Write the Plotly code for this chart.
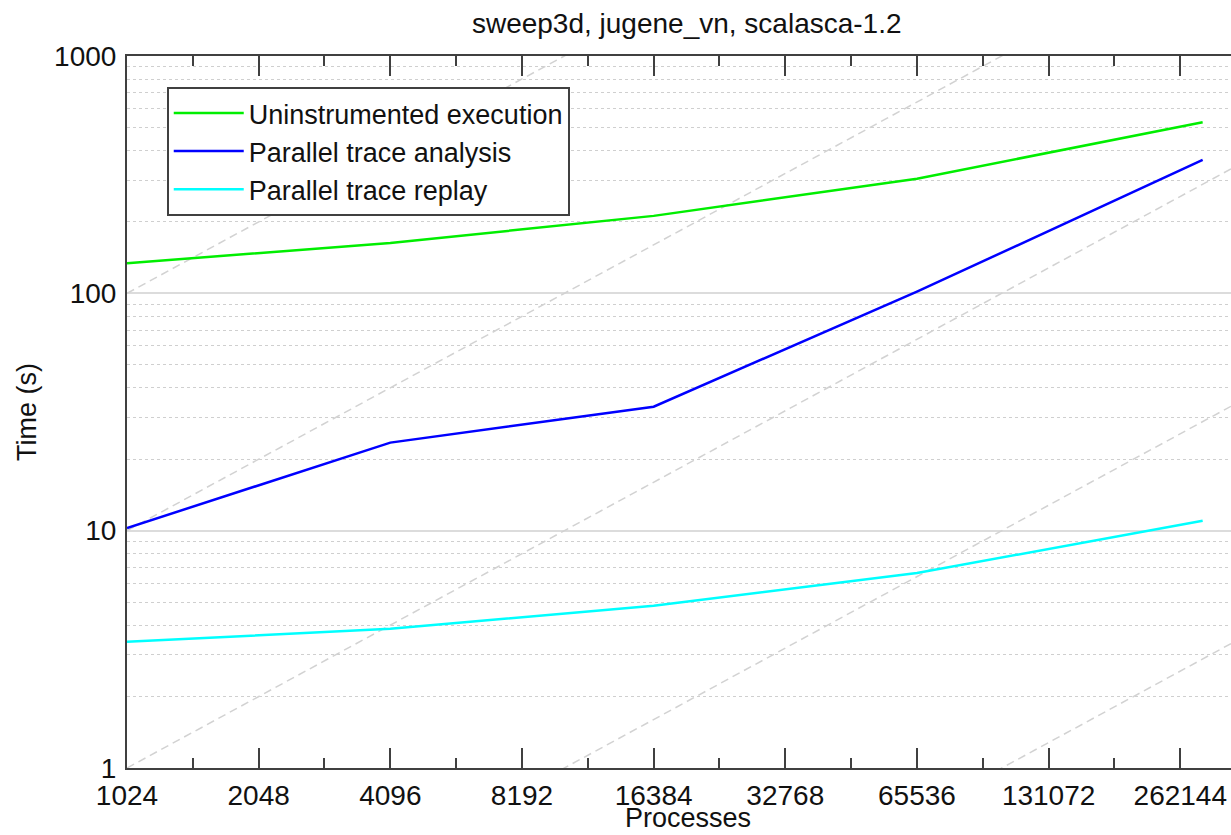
import math
import plotly.graph_objects as go

# ---- data ----
processes = [1024, 4096, 16384, 65536, 294912]
uninstrumented = [134, 163, 212, 304, 526]
trace_analysis = [10.26, 23.5, 33.3, 101.6, 365]
trace_replay = [3.40, 3.86, 4.83, 6.63, 11.0]

series_names = ["Uninstrumented execution", "Parallel trace analysis", "Parallel trace replay"]
series_colors = ["#00ee00", "#0000ff", "#00ffff"]

x_tick_vals = [1024, 2048, 4096, 8192, 16384, 32768, 65536, 131072, 262144]
x_tick_text = [str(v) for v in x_tick_vals]
y_tick_vals = [1, 10, 100, 1000]
y_tick_text = ["1", "10", "100", "1000"]

# ideal linear-scaling reference lines: time = c * P / 1024
ideal_factors = [0.01, 0.1, 1, 10, 100]
ideal_x = [1024, 400000]

X_MIN_LOG = math.log10(1024)
X_MAX_LOG = 5.5345

FONT = "Liberation Sans, Arial, sans-serif"
AXIS_COLOR = "#404040"

fig = go.Figure()

for c in ideal_factors:
    fig.add_trace(go.Scatter(
        x=ideal_x, y=[c * v / 1024 for v in ideal_x], mode="lines",
        line=dict(color="#d2d2d2", width=1.5, dash="8px,5px"),
        showlegend=False, hoverinfo="skip"))

for name, ys, col in zip(series_names, [uninstrumented, trace_analysis, trace_replay], series_colors):
    fig.add_trace(go.Scatter(x=processes, y=ys, mode="lines", name=name,
                             line=dict(color=col, width=2.5)))

minor_x = [v * math.sqrt(2) for v in x_tick_vals]
minor_y = [m * 10 ** d for d in range(0, 3) for m in range(2, 10)]

fig.update_layout(
    width=1231, height=835,
    margin=dict(l=127, r=0, t=56, b=67),
    paper_bgcolor="white", plot_bgcolor="white",
    font=dict(family=FONT, size=28, color="#111111"),
    title=dict(text="sweep3d, jugene_vn, scalasca-1.2", x=0.507, xref="paper",
               xanchor="center", y=1 - 23 / 835, yref="container", yanchor="middle",
               font=dict(size=28, family=FONT, color="#111111")),
    xaxis=dict(type="log", range=[X_MIN_LOG, X_MAX_LOG],
               tickvals=x_tick_vals, ticktext=x_tick_text,
               ticks="inside", ticklen=20, tickwidth=2, tickcolor=AXIS_COLOR,
               showline=True, linecolor=AXIS_COLOR, linewidth=2, mirror="ticks",
               showgrid=False, zeroline=False, ticklabelstandoff=1,
               tickfont=dict(size=28),
               minor=dict(tickvals=minor_x, ticks="inside", ticklen=10, tickwidth=2,
                          tickcolor=AXIS_COLOR, showgrid=False)),
    yaxis=dict(type="log", range=[0, 3],
               tickvals=y_tick_vals, ticktext=y_tick_text,
               ticks="", showline=True, linecolor=AXIS_COLOR, linewidth=2,
               showgrid=True, gridcolor="#dcdcdc", gridwidth=2, zeroline=False,
               ticklabelstandoff=3, tickfont=dict(size=28),
               minor=dict(tickvals=minor_y, ticks="", showgrid=True,
                          gridcolor="#cfcfcf", gridwidth=1.2, griddash="dot"),
               title=dict(text="Time (s)", standoff=10, font=dict(size=27))),
    legend=dict(x=0.036, y=0.9565, xanchor="left", yanchor="top",
                bgcolor="white", bordercolor="#404040", borderwidth=2,
                font=dict(size=27, family=FONT), tracegroupgap=0,
                itemwidth=70),
    annotations=[dict(text="Processes", xref="paper", yref="paper",
                      x=(688 - 127) / 1104, y=-(834 - 768) / 712,
                      xanchor="center", yanchor="bottom", showarrow=False,
                      borderpad=0,
                      font=dict(size=27, family=FONT, color="#111111"))],
)

fig.write_html("out.html")
